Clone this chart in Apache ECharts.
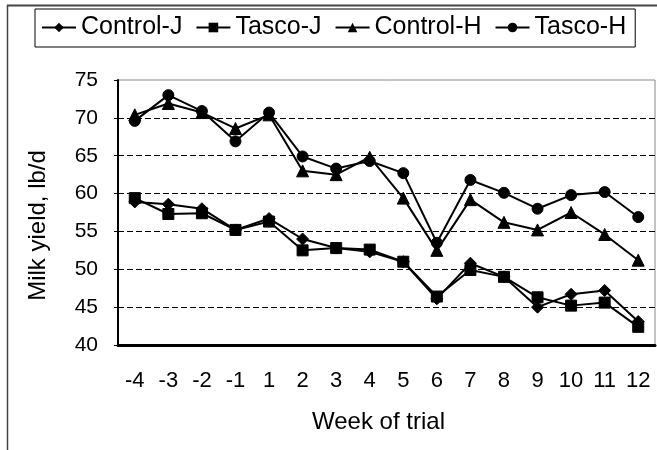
<!DOCTYPE html>
<html>
<head>
<meta charset="utf-8">
<script src="https://cdn.jsdelivr.net/npm/echarts@6/dist/echarts.min.js"></script>
<style>
  html, body { margin: 0; padding: 0; background: #fff; }
  #chart { width: 657px; height: 450px; }
</style>
</head>
<body>
<div id="chart"></div>
<script>
const weeks = ['-4', '-3', '-2', '-1', '1', '2', '3', '4', '5', '6', '7', '8', '9', '10', '11', '12']
const controlJ = [58.9, 58.6, 58.0, 55.2, 56.7, 54.0, 52.8, 52.3, 51.0, 46.1, 50.8, 49.0, 45.0, 46.7, 47.2, 43.1]
const tascoJ = [59.4, 57.3, 57.4, 55.2, 56.3, 52.5, 52.8, 52.6, 51.0, 46.4, 49.9, 49.0, 46.3, 45.2, 45.6, 42.4]
const controlH = [70.4, 71.9, 70.7, 68.6, 70.4, 63.0, 62.5, 64.8, 59.4, 52.5, 59.2, 56.2, 55.2, 57.5, 54.6, 51.2]
const tascoH = [69.6, 73.0, 70.9, 66.9, 70.7, 64.9, 63.3, 64.3, 62.7, 53.5, 61.8, 60.1, 58.0, 59.8, 60.2, 56.9]

const font = '"Liberation Sans", Arial, sans-serif'

const chart = echarts.init(document.getElementById('chart'))

const mkSeries = (name, data, symbol, size) => ({
  name,
  type: 'line',
  data,
  symbol,
  symbolSize: size,
  showAllSymbol: true,
  lineStyle: { color: '#000', width: 2 },
  itemStyle: { color: '#000', borderColor: '#000' },
  emphasis: { disabled: true },
  animation: false,
})

chart.setOption({
  animation: false,
  textStyle: { fontFamily: font },
  graphic: [
    { type: 'line', shape: { x1: 7, y1: 5.5, x2: 657, y2: 5.5 }, style: { stroke: '#444', lineWidth: 2 } },
    { type: 'line', shape: { x1: 7.5, y1: 5, x2: 7.5, y2: 450 }, style: { stroke: '#444', lineWidth: 1.5 } },
  ],
  legend: {
    left: 35,
    top: 9,
    padding: [6, 9, 7, 6],
    itemWidth: 34,
    itemHeight: 12,
    itemGap: 13,
    backgroundColor: '#fff',
    borderColor: '#000',
    borderWidth: 1,
    textStyle: { color: '#000', fontSize: 25, fontFamily: font },
    data: ['Control-J', 'Tasco-J', 'Control-H', 'Tasco-H'],
  },
  grid: {
    left: 118,
    top: 80,
    right: 2,
    bottom: 105,
    show: true,
    borderColor: '#888',
    borderWidth: 1,
  },
  xAxis: {
    type: 'category',
    data: weeks,
    boundaryGap: true,
    name: 'Week of trial',
    nameLocation: 'middle',
    nameGap: 65,
    nameTextStyle: { color: '#000', fontSize: 24, fontFamily: font, padding: [0, 16, 0, 0] },
    axisLine: { lineStyle: { color: '#000', width: 3 } },
    axisTick: { show: false },
    axisLabel: { color: '#000', fontSize: 22, margin: 25, fontFamily: font, interval: 0 },
  },
  yAxis: {
    type: 'value',
    min: 40,
    max: 75,
    interval: 5,
    name: 'Milk yield, lb/d',
    nameLocation: 'middle',
    nameGap: 68,
    nameTextStyle: { color: '#000', fontSize: 24, fontFamily: font, padding: [0, 26, 0, 0] },
    axisLine: { show: true, lineStyle: { color: '#000', width: 2 } },
    axisTick: { show: true, inside: false, length: 4, lineStyle: { color: '#000', width: 1 } },
    axisLabel: { color: '#000', fontSize: 21, margin: 20, fontFamily: font },
    splitLine: {
      show: true,
      showMinLine: false,
      showMaxLine: false,
      lineStyle: { color: '#000', width: 1, type: [6, 3] },
    },
  },
  series: [
    mkSeries('Control-J', controlJ, 'diamond', 12),
    mkSeries('Tasco-J', tascoJ, 'rect', 11),
    mkSeries('Control-H', controlH, 'triangle', 12),
    mkSeries('Tasco-H', tascoH, 'circle', 11),
  ],
})
</script>
</body>
</html>
